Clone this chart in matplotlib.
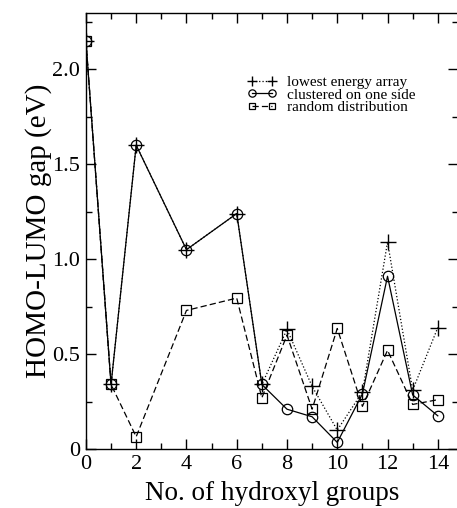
import numpy as np
import matplotlib
matplotlib.use("Agg")
import matplotlib.pyplot as plt
from matplotlib.ticker import MultipleLocator

plt.rcParams['font.family'] = ['Liberation Serif', 'DejaVu Serif']

# number of OH groups and the HOMO-LUMO gap for each arrangement
n_oh = [0, 1, 2, 4, 6, 7, 8, 9, 10, 11, 12, 13, 14]
gap_lowest = [2.15, 0.34, 1.60, 1.05, 1.24, 0.34, 0.63, 0.33, 0.10, 0.30, 1.09, 0.31, 0.64]
gap_cluster = [2.15, 0.34, 1.60, 1.05, 1.24, 0.34, 0.21, 0.17, 0.035, 0.29, 0.91, 0.285, 0.175]
gap_random = [2.15, 0.34, 0.065, 0.73, 0.795, 0.27, 0.60, 0.21, 0.635, 0.225, 0.52, 0.235, 0.26]

fig = plt.figure(figsize=(4.57, 5.08), dpi=100)
ax = fig.add_axes([0.188, 0.116, 0.814, 0.858])

lw = 0.9
ax.plot(n_oh, gap_lowest, color='black', ls=':', lw=lw, marker='+', ms=11,
        mew=1.0, label='lowest energy array')
ax.plot(n_oh, gap_cluster, color='black', ls='-', lw=lw, marker='o', ms=7.5,
        mfc='none', mew=0.9, label='clustered on one side')
ax.plot(n_oh, gap_random, color='black', ls=(0, (5, 2.5)), lw=lw, marker='s', ms=6.5,
        mfc='none', mew=0.9, label='random distribution')

ax.set_xlim(0, 14.8)
ax.set_ylim(0, 2.295)
ax.xaxis.set_major_locator(MultipleLocator(2))
ax.xaxis.set_minor_locator(MultipleLocator(1))
ax.yaxis.set_minor_locator(MultipleLocator(0.25))
ax.set_yticks([0, 0.5, 1.0, 1.5, 2.0])
ax.set_yticklabels(['0', '0.5', '1.0', '1.5', '2.0'])

ax.tick_params(which='both', direction='in', top=True, right=True,
               labelsize=16, width=1.0, pad=4)
ax.tick_params(which='major', length=7)
ax.tick_params(which='minor', length=4)
for sp in ax.spines.values():
    sp.set_linewidth(1.0)

ax.set_xlabel('No. of hydroxyl groups', fontsize=19.5, labelpad=5)
ax.set_ylabel('HOMO-LUMO gap (eV)', fontsize=21, labelpad=0)

ax.legend(loc='upper left', bbox_to_anchor=(0.405, 0.882), frameon=False,
          fontsize=11, numpoints=2, markerscale=0.7, handlelength=1.9,
          handletextpad=0.7, labelspacing=-0.08, borderpad=0.2)

fig.savefig('out.png', dpi=100)
